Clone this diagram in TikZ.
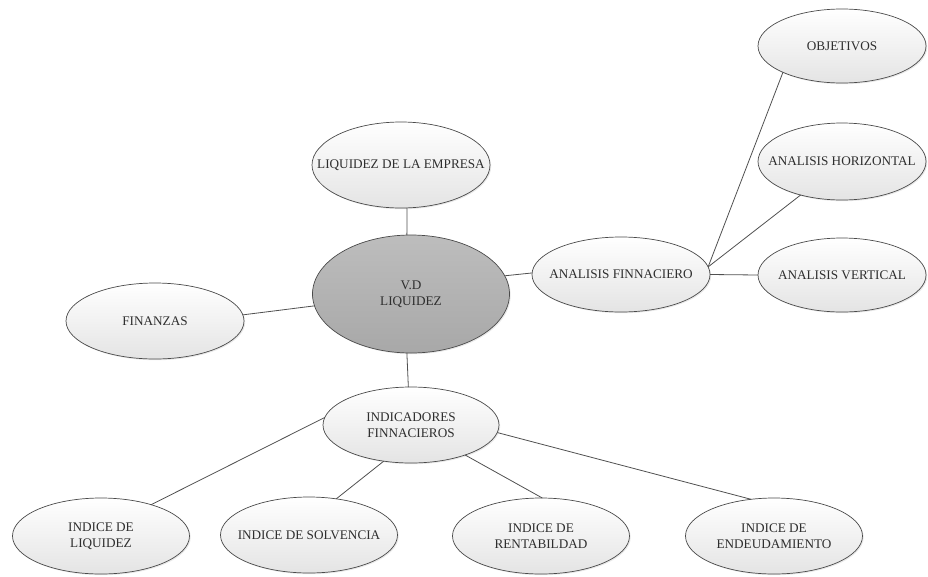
\documentclass[tikz,border=0pt]{standalone}
\usepackage{fontspec}
\setmainfont{Liberation Serif}
\usetikzlibrary{shapes.geometric,shadows}
\definecolor{edge}{HTML}{4A4A4A}
\definecolor{linec}{HTML}{505050}
\definecolor{ink}{HTML}{2E2E2E}
\definecolor{bubbot}{HTML}{E4E4E4}
\definecolor{hubtop}{HTML}{BDBDBD}
\definecolor{hubbot}{HTML}{A8A8A8}
\tikzset{
  bub/.style={ellipse, draw=edge, line width=0.7pt, top color=white, bottom color=bubbot,
    inner sep=0pt, outer sep=0pt, minimum width=177pt, minimum height=76pt,
    drop shadow={shadow xshift=1.2pt, shadow yshift=-1.2pt, opacity=0.18}},
  hub/.style={bub, top color=hubtop, bottom color=hubbot, minimum width=197pt, minimum height=118pt},
  lbl/.style={font=\fontsize{13.2}{15.5}\selectfont, text=ink, align=center, inner sep=0pt},
  link/.style={draw=linec, line width=0.8pt}
}
\begin{document}
\begin{tikzpicture}[x=1pt,y=-1pt]
\useasboundingbox (0,0) rectangle (928,576);

% central variable
\node[hub, label={[lbl]center:V.D\\LIQUIDEZ}] (vd) at (411,294) {};

% first ring
\node[bub, minimum width=178pt, minimum height=86pt, label={[lbl]center:LIQUIDEZ DE LA EMPRESA}] (emp) at (401,165) {};
\node[bub, minimum width=178pt, minimum height=76pt, label={[lbl]center:FINANZAS}] (fz) at (155,321) {};
\node[bub, minimum width=178pt, minimum height=75pt, label={[lbl]center:ANALISIS FINNACIERO}] (fin) at (621,274.5) {};
\node[bub, minimum width=176pt, minimum height=76pt, label={[lbl]center:INDICADORES\\FINNACIEROS}] (ind) at (411,425) {};

% analysis branch
\node[bub, minimum width=168pt, minimum height=74pt, label={[lbl]center:OBJETIVOS}] (obj) at (842,46) {};
\node[bub, minimum width=168pt, minimum height=77pt, label={[lbl]center:ANALISIS HORIZONTAL}] (hor) at (842,161.5) {};
\node[bub, minimum width=168pt, minimum height=74pt, label={[lbl]center:ANALISIS VERTICAL}] (ver) at (842,275) {};

% indicator branch
\node[bub, label={[lbl]center:INDICE DE\\LIQUIDEZ}] (il) at (101,536) {};
\node[bub, label={[lbl]center:INDICE DE SOLVENCIA}] (is) at (309,535) {};
\node[bub, label={[lbl]center:INDICE DE\\RENTABILDAD}] (ir) at (541,536) {};
\node[bub, label={[lbl]center:INDICE DE\\ENDEUDAMIENTO}] (ie) at (774,536) {};

% connectors
\draw[link] (emp.278) -- (vd.94);
\draw[link] (vd.11) -- (fin.179);
\draw[link] (fz.4.5) -- (vd.187);
\draw[link] (vd.266.6) -- (ind.94.5);

\draw[link] (fin.5) -- (obj.204);
\draw[link] (fin.5) -- (hor.219);
\draw[link] (fin.0) -- (ver.180);

\draw[link] (ind.175.5) -- (il.32);
\draw[link] (ind.233) -- (is.53);
\draw[link] (ind.331.5) -- (ir.88.5);
\draw[link] (ind.355.5) -- (ie.122);
\end{tikzpicture}
\end{document}
